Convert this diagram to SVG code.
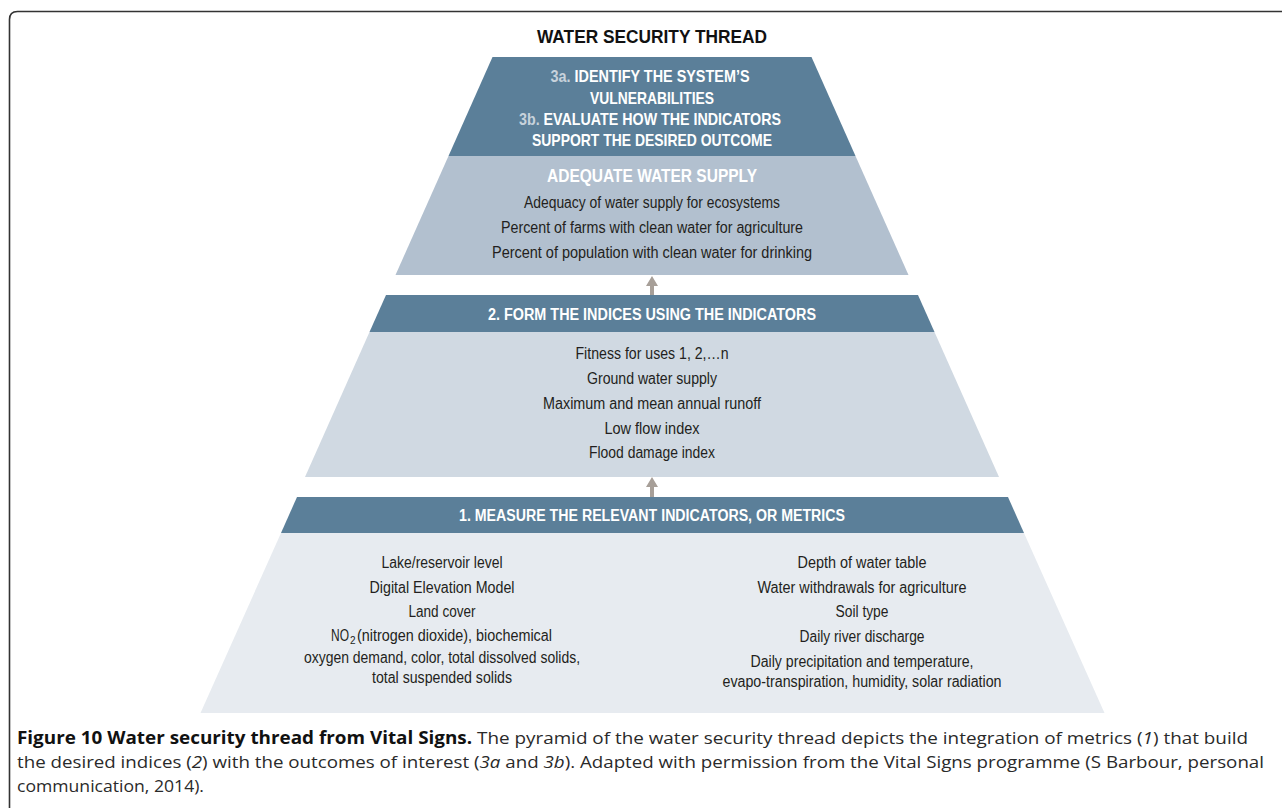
<svg xmlns="http://www.w3.org/2000/svg" width="1282" height="808" viewBox="0 0 1282 808">
<style>
.cn{font-family:'Liberation Sans Narrow','Liberation Sans',Arial,sans-serif;text-anchor:middle}
.st{text-anchor:start}
.hd{font-weight:bold;fill:#ffffff;font-size:16px}
.lb{fill:#c7d2dc}
.bd{fill:#231f20;font-size:16px}
.sub{font-size:10px}
.cap{font-family:'Open Sans','Liberation Sans',Arial,sans-serif;font-size:17px;fill:#2a2a2a}
.band{fill:#5b7f99}
.arrow{fill:#a79f98}
</style>
<rect x="0" y="0" width="1282" height="808" fill="#ffffff"/>
<path d="M9.5,808 V19.5 Q9.5,11.5 17.5,11.5 H1282" fill="none" stroke="#333333" stroke-width="1.6"/>

<g id="title">
<text class="cn" x="652" y="42.5" font-size="19" font-weight="bold" fill="#111111" textLength="230" lengthAdjust="spacingAndGlyphs">WATER SECURITY THREAD</text>
</g>

<g id="tier3">
<polygon class="band" points="492.5,57 811.5,57 855.5,156 448.5,156"/>
<text class="cn hd" x="650" y="81.5" style="font-size:17px" textLength="199" lengthAdjust="spacingAndGlyphs"><tspan class="lb">3a.</tspan> IDENTIFY THE SYSTEM’S</text>
<text class="cn hd" x="652" y="103.5" style="font-size:17px" textLength="124" lengthAdjust="spacingAndGlyphs">VULNERABILITIES</text>
<text class="cn hd" x="650" y="124.5" style="font-size:17px" textLength="262" lengthAdjust="spacingAndGlyphs"><tspan class="lb">3b.</tspan> EVALUATE HOW THE INDICATORS</text>
<text class="cn hd" x="652" y="145.5" style="font-size:17px" textLength="240" lengthAdjust="spacingAndGlyphs">SUPPORT THE DESIRED OUTCOME</text>
</g>

<g id="outcome">
<polygon fill="#b2c0cf" points="448.5,156 855.5,156 908.5,275 395.5,275"/>
<text class="cn hd" x="652" y="181.5" style="font-size:18px" textLength="210" lengthAdjust="spacingAndGlyphs">ADEQUATE WATER SUPPLY</text>
<text class="cn bd" x="652" y="207.5" textLength="256" lengthAdjust="spacingAndGlyphs">Adequacy of water supply for ecosystems</text>
<text class="cn bd" x="652" y="232.5" textLength="302" lengthAdjust="spacingAndGlyphs">Percent of farms with clean water for agriculture</text>
<text class="cn bd" x="652" y="257.5" textLength="320" lengthAdjust="spacingAndGlyphs">Percent of population with clean water for drinking</text>
</g>

<g id="tier2">
<polygon class="band" points="386,295 918,295 934.5,332 369.5,332"/>
<polygon fill="#d0d9e2" points="369.5,332 934.5,332 999,477 305,477"/>
<text class="cn hd" x="652" y="319.5" textLength="328" lengthAdjust="spacingAndGlyphs">2. FORM THE INDICES USING THE INDICATORS</text>
<text class="cn bd" x="652" y="358.5" textLength="153" lengthAdjust="spacingAndGlyphs">Fitness for uses 1, 2,…n</text>
<text class="cn bd" x="652" y="383.5" textLength="130" lengthAdjust="spacingAndGlyphs">Ground water supply</text>
<text class="cn bd" x="652" y="408.5" textLength="218" lengthAdjust="spacingAndGlyphs">Maximum and mean annual runoff</text>
<text class="cn bd" x="652" y="433.5" textLength="95" lengthAdjust="spacingAndGlyphs">Low flow index</text>
<text class="cn bd" x="652" y="457.5" textLength="126" lengthAdjust="spacingAndGlyphs">Flood damage index</text>
</g>

<g id="tier1">
<polygon class="band" points="297,497 1008,497 1024,533 281,533"/>
<polygon fill="#e7ebf0" points="281,533 1024,533 1104.5,713 200.5,713"/>
<text class="cn hd" x="652" y="521" textLength="386" lengthAdjust="spacingAndGlyphs">1. MEASURE THE RELEVANT INDICATORS, OR METRICS</text>
<text class="cn bd" x="442" y="567.5" textLength="121" lengthAdjust="spacingAndGlyphs">Lake/reservoir level</text>
<text class="cn bd" x="442" y="592.5" textLength="145" lengthAdjust="spacingAndGlyphs">Digital Elevation Model</text>
<text class="cn bd" x="442" y="616.5" textLength="67" lengthAdjust="spacingAndGlyphs">Land cover</text>
<text class="cn st bd" x="331" y="640.5" textLength="18" lengthAdjust="spacingAndGlyphs">NO</text>
<text class="cn st bd sub" x="350" y="644" style="font-size:10px">2</text>
<text class="cn st bd" x="357" y="640.5" textLength="195" lengthAdjust="spacingAndGlyphs">(nitrogen dioxide), biochemical</text>
<text class="cn bd" x="442" y="663" textLength="276" lengthAdjust="spacingAndGlyphs">oxygen demand, color, total dissolved solids,</text>
<text class="cn bd" x="442" y="682.5" textLength="140" lengthAdjust="spacingAndGlyphs">total suspended solids</text>
<text class="cn bd" x="862" y="567.5" textLength="129" lengthAdjust="spacingAndGlyphs">Depth of water table</text>
<text class="cn bd" x="862" y="592.5" textLength="209" lengthAdjust="spacingAndGlyphs">Water withdrawals for agriculture</text>
<text class="cn bd" x="862" y="616.5" textLength="53" lengthAdjust="spacingAndGlyphs">Soil type</text>
<text class="cn bd" x="862" y="641.5" textLength="125" lengthAdjust="spacingAndGlyphs">Daily river discharge</text>
<text class="cn bd" x="862" y="666.5" textLength="223" lengthAdjust="spacingAndGlyphs">Daily precipitation and temperature,</text>
<text class="cn bd" x="862" y="686.5" textLength="279" lengthAdjust="spacingAndGlyphs">evapo-transpiration, humidity, solar radiation</text>
</g>

<g id="connectors">
<polygon class="arrow" points="652,276 658,286 654,286 654,295 650,295 650,286 646,286"/>
<polygon class="arrow" points="652,477 658,487 654,487 654,497 650,497 650,487 646,487"/>
</g>

<g id="caption">
<text class="cap" x="17" y="744" textLength="1231" lengthAdjust="spacingAndGlyphs"><tspan font-weight="bold" fill="#111111">Figure 10 Water security thread from Vital Signs.</tspan> The pyramid of the water security thread depicts the integration of metrics (<tspan font-style="italic">1</tspan>) that build</text>
<text class="cap" x="17" y="768" textLength="1247" lengthAdjust="spacingAndGlyphs">the desired indices (<tspan font-style="italic">2</tspan>) with the outcomes of interest (<tspan font-style="italic">3a</tspan> and <tspan font-style="italic">3b</tspan>). Adapted with permission from the Vital Signs programme (S Barbour, personal</text>
<text class="cap" x="17" y="792" textLength="187" lengthAdjust="spacingAndGlyphs">communication, 2014).</text>
</g>
</svg>
